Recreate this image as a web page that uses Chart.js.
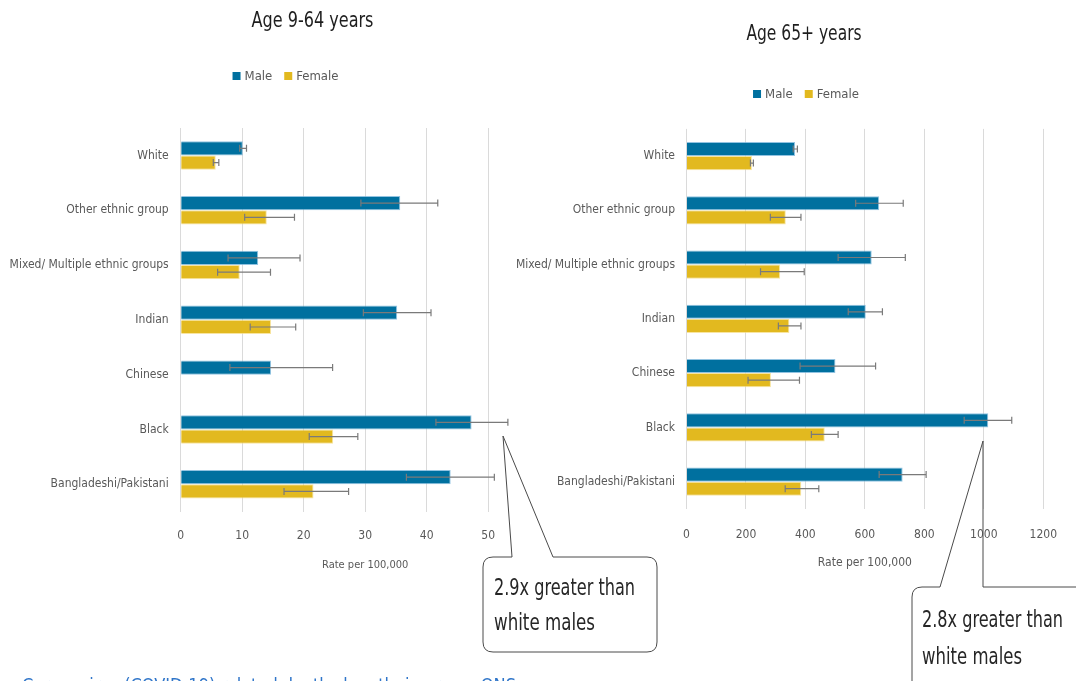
<!DOCTYPE html>
<html>
<head>
<meta charset="utf-8">
<title>COVID-19 death rates by ethnic group, sex and age</title>
<style>
  html, body { margin: 0; padding: 0; background: #ffffff; }
  #wrap { position: relative; width: 1076px; height: 681px; overflow: hidden; background: #ffffff; }
  #wrap canvas, #wrap svg { position: absolute; left: 0; top: 0; }
  #source {
    position: absolute; left: 22px; top: 675px; line-height: 20px; white-space: nowrap;
    font-family: 'DejaVu Sans Condensed', 'Liberation Sans', sans-serif;
    font-size: 18px; color: #2f75c9;
  }
  .callout { font-family: 'DejaVu Sans Condensed', 'Liberation Sans', sans-serif; font-size: 23px; fill: #262626; }
</style>
<script src="https://cdn.jsdelivr.net/npm/chart.js@4.4.1/dist/chart.umd.min.js"></script>
</head>
<body>
<div id="wrap">
  <canvas id="young" width="1076" height="681"></canvas>
  <canvas id="old" width="1076" height="681"></canvas>
  <svg width="1076" height="681" viewBox="0 0 1076 681">
    <g fill="none" stroke="#4a4a4a" stroke-width="1">
      <!-- callout for ages 9-64 -->
      <path fill="#ffffff" d="M 553 557 H 647 Q 657 557 657 567 V 642 Q 657 652 647 652 H 493 Q 483 652 483 642 V 567 Q 483 557 493 557 H 512"/>
      <path d="M 512 557 L 503 436 L 553 557"/>
      <!-- callout for ages 65+ -->
      <path fill="#ffffff" d="M 983 587 H 1100 V 700 H 912 V 597 Q 912 587 922 587 H 940"/>
      <path d="M 940 587 L 983 441 L 983 587"/>
    </g>
    <text class="callout" x="494" y="595" textLength="141" lengthAdjust="spacingAndGlyphs">2.9x greater than</text>
    <text class="callout" x="494" y="630" textLength="101" lengthAdjust="spacingAndGlyphs">white males</text>
    <text class="callout" x="922" y="627" textLength="141" lengthAdjust="spacingAndGlyphs">2.8x greater than</text>
    <text class="callout" x="922" y="664" textLength="100" lengthAdjust="spacingAndGlyphs">white males</text>
  </svg>
  <div id="source">Coronavirus (COVID-19) related deaths by ethnic group, ONS</div>
</div>
<script>
const FONT = "'DejaVu Sans Condensed', 'Liberation Sans', sans-serif";

// Ethnic groups, listed top to bottom
const categories = ['White', 'Other ethnic group', 'Mixed/ Multiple ethnic groups', 'Indian', 'Chinese', 'Black', 'Bangladeshi/Pakistani'];

// Age 9-64 years: rate per 100,000 with 95% confidence limits
const maleYoung      = [10.1, 35.7, 12.6, 35.2, 14.7, 47.3, 43.9];
const maleYoungLow   = [9.6, 29.3, 7.7, 29.7, 8.0, 41.5, 36.7];
const maleYoungHigh  = [10.7, 41.8, 19.4, 40.7, 24.7, 53.2, 51.0];
const femaleYoung     = [5.7, 14.0, 9.6, 14.7, null, 24.8, 21.6];
const femaleYoungLow  = [5.3, 10.4, 6.0, 11.3, null, 20.9, 16.8];
const femaleYoungHigh = [6.2, 18.5, 14.6, 18.7, null, 28.8, 27.3];

// Age 65+ years: rate per 100,000 with 95% confidence limits
const maleOld      = [365, 648, 623, 603, 501, 1015, 727];
const maleOldLow   = [359, 569, 510, 544, 382, 934, 648];
const maleOldHigh  = [373, 729, 736, 659, 636, 1094, 806];
const femaleOld     = [220, 334, 315, 346, 284, 465, 386];
const femaleOldLow  = [215, 282, 249, 309, 207, 420, 332];
const femaleOldHigh = [225, 385, 396, 385, 380, 510, 445];

// Axis ticks
const youngTicks = [0, 10, 20, 30, 40, 50];
const oldTicks = [0, 200, 400, 600, 800, 1000, 1200];

const MALE_COLOR = '#00709f';
const FEMALE_COLOR = '#e2b91f';

// Horizontal whiskers with end caps for each bar
const errorBarPlugin = {
  id: 'errorBars',
  afterDatasetsDraw(chart) {
    const ctx = chart.ctx;
    const xs = chart.scales.x;
    ctx.save();
    ctx.strokeStyle = '#7a7a7a';
    ctx.lineWidth = 1.2;
    chart.data.datasets.forEach((ds, di) => {
      const meta = chart.getDatasetMeta(di);
      meta.data.forEach((bar, i) => {
        const lo = ds.errLow[i], hi = ds.errHigh[i];
        if (lo == null || hi == null) return;
        const x1 = xs.getPixelForValue(lo);
        const x2 = xs.getPixelForValue(hi);
        const y = bar.y;
        ctx.beginPath();
        ctx.moveTo(x1, y); ctx.lineTo(x2, y);
        ctx.moveTo(x1, y - 3.5); ctx.lineTo(x1, y + 3.5);
        ctx.moveTo(x2, y - 3.5); ctx.lineTo(x2, y + 3.5);
        ctx.stroke();
      });
    });
    ctx.restore();
  }
};

// Panel heading and a compact legend built from the datasets
const panelPlugin = {
  id: 'panelDecor',
  afterDraw(chart, args, opts) {
    const ctx = chart.ctx;
    ctx.save();
    ctx.font = opts.titleSize + 'px ' + FONT;
    ctx.fillStyle = '#1e1e1e';
    ctx.textAlign = 'center';
    ctx.textBaseline = 'middle';
    ctx.translate(opts.titleX, opts.titleY);
    ctx.scale(opts.titleSqueeze, 1);
    ctx.fillText(opts.title, 0, 0);
    ctx.restore();

    ctx.save();
    ctx.font = '13px ' + FONT;
    ctx.textBaseline = 'middle';
    const box = 8, gap = 4, itemGap = 12;
    const items = chart.data.datasets.map(d => ({ label: d.label, color: d.backgroundColor }));
    const widths = items.map(it => box + gap + ctx.measureText(it.label).width);
    const total = widths.reduce((a, b) => a + b, 0) + itemGap * (items.length - 1);
    let x = opts.legendX - total / 2;
    ctx.textAlign = 'left';
    items.forEach((it, i) => {
      ctx.fillStyle = it.color;
      ctx.fillRect(x, opts.legendY - box / 2, box, box);
      ctx.fillStyle = '#595959';
      ctx.fillText(it.label, x + box + gap, opts.legendY + 1);
      x += widths[i] + itemGap;
    });
    ctx.restore();
  }
};

function makeDatasets(m, mLo, mHi, f, fLo, fHi) {
  return [
    { label: 'Male', data: m, errLow: mLo, errHigh: mHi, backgroundColor: MALE_COLOR,
      borderColor: 'rgba(110,175,215,0.75)', borderWidth: 1 },
    { label: 'Female', data: f, errLow: fLo, errHigh: fHi, backgroundColor: FEMALE_COLOR,
      borderColor: 'rgba(245,220,130,0.75)', borderWidth: 1 }
  ];
}

function makeChart(id, cfg) {
  const tickSet = cfg.ticks;
  const shownMax = tickSet[tickSet.length - 1];
  return new Chart(document.getElementById(id), {
    type: 'bar',
    data: {
      labels: categories,
      datasets: cfg.datasets
    },
    plugins: [errorBarPlugin, panelPlugin],
    options: {
      indexAxis: 'y',
      responsive: false,
      animation: false,
      devicePixelRatio: 1,
      datasets: { bar: { categoryPercentage: 0.52, barPercentage: 1.0 } },
      layout: { padding: cfg.padding },
      plugins: {
        legend: { display: false },
        tooltip: { enabled: false },
        panelDecor: cfg.decor
      },
      scales: {
        x: {
          min: 0, max: cfg.max,
          afterBuildTicks: s => { s.ticks = cfg.gridValues.map(v => ({ value: v })); },
          ticks: {
            padding: cfg.tickPad, color: '#595959',
            font: { family: FONT, size: 12 },
            callback: v => (tickSet.includes(v) ? String(v) : '')
          },
          grid: {
            drawTicks: false,
            color: c => (c.tick && c.tick.value > shownMax ? 'rgba(0,0,0,0)' : '#dadada'),
            lineWidth: 1
          },
          border: { display: false },
          title: { display: true, text: 'Rate per 100,000', color: '#595959',
                   font: { family: FONT, size: cfg.axisTitleSize }, padding: 0 },
          afterFit: s => { s.height = cfg.xAxisHeight; }
        },
        y: {
          ticks: { padding: cfg.catPad, color: '#595959', font: { family: FONT, size: 12 }, autoSkip: false },
          grid: { display: false, drawTicks: false },
          border: { display: false },
          afterFit: s => { s.width = cfg.yAxisWidth; }
        }
      }
    }
  });
}

makeChart('young', {
  datasets: makeDatasets(maleYoung, maleYoungLow, maleYoungHigh, femaleYoung, femaleYoungLow, femaleYoungHigh),
  ticks: youngTicks,
  gridValues: [0, 10, 20, 30, 40, 50, 60],
  max: 60,
  padding: { left: 0, right: 1076 - 549.7, top: 128, bottom: 681 - 511.7 - 60 },
  xAxisHeight: 60,
  yAxisWidth: 180.7,
  tickPad: 17,
  catPad: 12,
  axisTitleSize: 11,
  decor: { title: 'Age 9-64 years', titleX: 312.5, titleY: 22, titleSize: 21, titleSqueeze: 0.85,
           legendX: 285.5, legendY: 76 }
});

makeChart('old', {
  datasets: makeDatasets(maleOld, maleOldLow, maleOldHigh, femaleOld, femaleOldLow, femaleOldHigh),
  ticks: oldTicks,
  gridValues: oldTicks,
  max: 1200,
  padding: { left: 0, right: 13, top: 128.9, bottom: 681 - 508.8 - 61.7 },
  xAxisHeight: 61.7,
  yAxisWidth: 686.5,
  tickPad: 19,
  catPad: 11.5,
  axisTitleSize: 12,
  decor: { title: 'Age 65+ years', titleX: 804, titleY: 35, titleSize: 21, titleSqueeze: 0.82,
           legendX: 806, legendY: 94 }
});
</script>
</body>
</html>
